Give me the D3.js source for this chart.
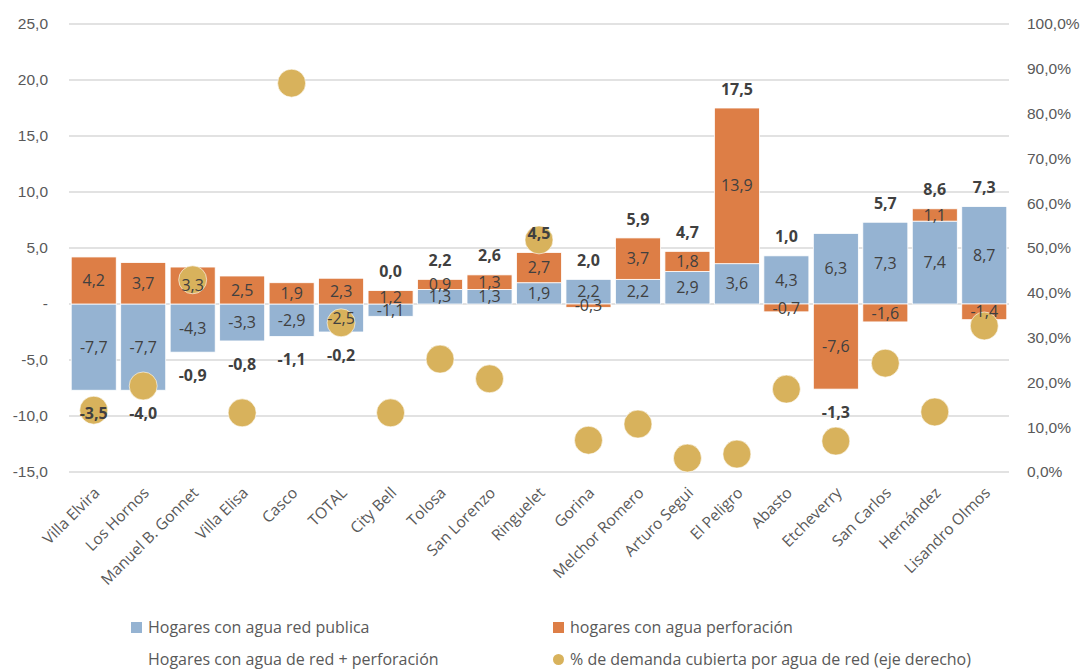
<!DOCTYPE html>
<html>
<head>
<meta charset="utf-8">
<script src="https://cdn.jsdelivr.net/npm/d3@7"></script>
<style>
  body { margin: 0; background: #fff; }
  svg { font-family: "Open Sans", sans-serif; }
</style>
</head>
<body>
<svg width="1085" height="671"></svg>
<script>
var categories = ["Villa Elvira", "Los Hornos", "Manuel B. Gonnet", "Villa Elisa", "Casco", "TOTAL",
    "City Bell", "Tolosa", "San Lorenzo", "Ringuelet", "Gorina", "Melchor Romero", "Arturo Segui",
    "El Peligro", "Abasto", "Etcheverry", "San Carlos", "Hernández", "Lisandro Olmos"];
var redPublica = [-7.7, -7.7, -4.3, -3.3, -2.9, -2.5, -1.1, 1.3, 1.3, 1.9, 2.2, 2.2, 2.9, 3.6, 4.3, 6.3, 7.3, 7.4, 8.7];
var perforacion = [4.2, 3.7, 3.3, 2.5, 1.9, 2.3, 1.2, 0.9, 1.3, 2.7, -0.3, 3.7, 1.8, 13.9, -0.7, -7.6, -1.6, 1.1, -1.4];
var redMasPerf = [-3.5, -4.0, -0.9, -0.8, -1.1, -0.2, 0.0, 2.2, 2.6, 4.5, 2.0, 5.9, 4.7, 17.5, 1.0, -1.3, 5.7, 8.6, 7.3];
var demandaPct = [0.138, 0.192, 0.429, 0.132, 0.868, 0.333, 0.132, 0.252, 0.208, 0.518, 0.071, 0.107, 0.031, 0.040, 0.185, 0.069, 0.243, 0.134, 0.326];
var leftTicks = [-15, -10, -5, 0, 5, 10, 15, 20, 25];
var rightTicks = [0, 0.1, 0.2, 0.3, 0.4, 0.5, 0.6, 0.7, 0.8, 0.9, 1.0];

var colors = { red: "#95b3d2", perf: "#dd7e46", dot: "#d8b25c" };

var svg = d3.select("svg"),
    margin = {top: 24, right: 76, bottom: 199, left: 69},
    width = +svg.attr("width") - margin.left - margin.right,
    height = +svg.attr("height") - margin.top - margin.bottom;

var loc = d3.formatLocale({decimal: ",", thousands: ".", grouping: [3], currency: ["", ""], minus: "-"});
var f1 = loc.format(".1f"), fp = loc.format(".1%");

var x = d3.scaleBand().domain(categories).range([0, width]).paddingInner(0.09).paddingOuter(0.045);
var y = d3.scaleLinear().domain([-15, 25]).range([height, 0]);
var y2 = d3.scaleLinear().domain([0, 1]).range([height, 0]);

var g = svg.append("g").attr("transform", "translate(" + margin.left + "," + margin.top + ")");

// gridlines
g.append("g").selectAll("line").data(leftTicks).enter().append("line")
    .attr("x1", 0).attr("x2", width)
    .attr("y1", function(d) { return y(d); }).attr("y2", function(d) { return y(d); })
    .attr("stroke", "#d9d9d9").attr("stroke-width", 1.5);

// axes (text only)
var yAxis = d3.axisLeft(y).tickValues(leftTicks).tickSize(0).tickPadding(21)
    .tickFormat(function(d) { return d === 0 ? "-" : f1(d); });
var yAxis2 = d3.axisRight(y2).tickValues(rightTicks).tickSize(0).tickPadding(18).tickFormat(fp);
var ga = g.append("g").call(yAxis);
var gb = g.append("g").attr("transform", "translate(" + width + ",0)").call(yAxis2);
[ga, gb].forEach(function(a) {
    a.select(".domain").remove();
    a.selectAll("text").attr("fill", "#595959").style("font-size", "15.5px");
});

// stacked bars
var rows = categories.map(function(c, i) { return {cat: c, red: redPublica[i], perf: perforacion[i]}; });
var stack = d3.stack().keys(["red", "perf"]).offset(d3.stackOffsetDiverging);
var series = stack(rows);

var layers = g.selectAll("g.layer").data(series).enter().append("g")
    .attr("class", "layer")
    .attr("fill", function(d) { return colors[d.key]; });
layers.selectAll("rect").data(function(d) { return d; }).enter().append("rect")
    .attr("x", function(d) { return x(d.data.cat); })
    .attr("width", x.bandwidth())
    .attr("y", function(d) { return y(Math.max(d[0], d[1])); })
    .attr("height", function(d) { return Math.abs(y(d[0]) - y(d[1])); })
    .attr("stroke", "#fff").attr("stroke-width", 0.8);

// dots (right axis)
g.append("g").selectAll("circle").data(demandaPct).enter().append("circle")
    .attr("cx", function(d, i) { return x(categories[i]) + x.bandwidth() / 2; })
    .attr("cy", function(d) { return y2(d); })
    .attr("r", 14)
    .attr("fill", colors.dot)
    .attr("stroke", "#fff").attr("stroke-width", 0.6);

// segment labels
series.forEach(function(s) {
    g.append("g").selectAll("text").data(s).enter().append("text")
        .attr("x", function(d) { return x(d.data.cat) + x.bandwidth() / 2; })
        .attr("y", function(d) { return y((d[0] + d[1]) / 2); })
        .attr("dy", "0.35em")
        .attr("text-anchor", "middle")
        .attr("fill", "#404040")
        .style("font-size", "16px")
        .text(function(d) { return f1(d.data[s.key]); });
});

// totals
var posTop = categories.map(function(c, i) { return d3.max(series, function(s) { return s[i][1]; }); });
var negBot = categories.map(function(c, i) { return d3.min(series, function(s) { return s[i][0]; }); });
g.append("g").selectAll("text").data(redMasPerf).enter().append("text")
    .attr("x", function(d, i) { return x(categories[i]) + x.bandwidth() / 2; })
    .attr("y", function(d, i) { return d >= 0 ? y(Math.max(posTop[i], 0)) - 19 : y(Math.min(negBot[i], 0)) + 23; })
    .attr("dy", "0.35em")
    .attr("text-anchor", "middle")
    .attr("fill", "#404040")
    .style("font-size", "16px").style("font-weight", "bold")
    .text(function(d) { return f1(d); });

// category labels
g.append("g").selectAll("text").data(categories).enter().append("text")
    .attr("transform", function(d) {
        return "translate(" + (x(d) + x.bandwidth() / 2 + 3) + "," + (height + 18) + ") rotate(-45)";
    })
    .attr("text-anchor", "end")
    .attr("dy", "0.35em")
    .attr("fill", "#595959")
    .style("font-size", "15.5px")
    .text(function(d) { return d; });

// legend
var legend = [
    {label: "Hogares con agua red publica", type: "rect", color: colors.red, x: 131, y: 627},
    {label: "hogares con agua perforación", type: "rect", color: colors.perf, x: 553, y: 627},
    {label: "Hogares con agua de red + perforación", type: "none", x: 131, y: 659},
    {label: "% de demanda cubierta por agua de red (eje derecho)", type: "circle", color: colors.dot, x: 553, y: 659}
];
var lg = svg.append("g").selectAll("g").data(legend).enter().append("g")
    .attr("transform", function(d) { return "translate(" + d.x + "," + d.y + ")"; });
lg.filter(function(d) { return d.type === "rect"; }).append("rect")
    .attr("x", 0).attr("y", -5).attr("width", 11).attr("height", 11)
    .attr("fill", function(d) { return d.color; });
lg.filter(function(d) { return d.type === "circle"; }).append("circle")
    .attr("cx", 5.5).attr("cy", 0.5).attr("r", 5.5)
    .attr("fill", function(d) { return d.color; });
lg.append("text")
    .attr("x", 17).attr("dy", "0.35em")
    .attr("fill", "#595959")
    .style("font-size", "16px")
    .text(function(d) { return d.label; });
</script>
</body>
</html>
